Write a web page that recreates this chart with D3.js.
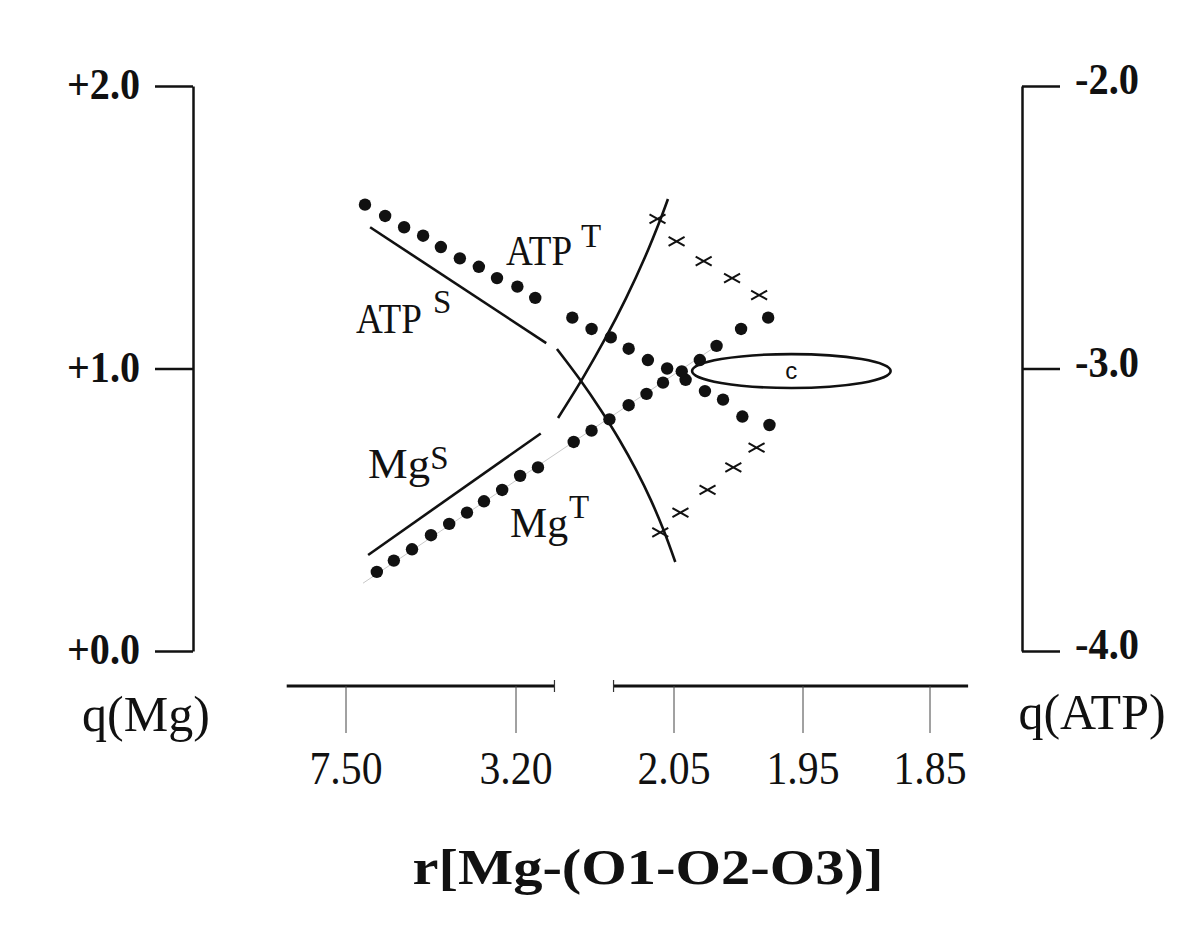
<!DOCTYPE html>
<html><head><meta charset="utf-8">
<script src="https://cdn.jsdelivr.net/npm/d3@7"></script>
<style>body{margin:0;background:#fff}</style>
</head><body><svg id="chart" width="1200" height="928"></svg>
<script>
// ---- data ----
const xTickValues = [7.50, 3.20, 2.05, 1.95, 1.85];
const xTickLabels = ["7.50", "3.20", "2.05", "1.95", "1.85"];
const qMgTicks = [0, 1, 2];
const qAtpTicks = [-4, -3, -2];
const axisSegments = [[9.0, 2.92], [2.49, 1.82]];

// ATP^T dotted series (r, q(Mg))
const atpT_r = [7.02, 6.51, 6.03, 5.55, 5.10, 4.62, 4.14, 3.68, 3.19, 3.06, 2.79, 2.65, 2.51, 2.38, 2.24, 2.10, 2.041, 2.026, 2.012, 1.997, 1.976];
const atpT_q = [1.58, 1.54, 1.50, 1.47, 1.43, 1.39, 1.36, 1.32, 1.29, 1.25, 1.18, 1.14, 1.11, 1.07, 1.03, 1.00, 0.96, 0.92, 0.89, 0.83, 0.80];
// Mg^T dotted series
const mgT_r = [6.72, 6.29, 5.83, 5.35, 4.89, 4.44, 4.01, 3.55, 3.17, 3.04, 2.78, 2.65, 2.52, 2.38, 2.25, 2.13, 2.044, 2.030, 2.017, 1.998, 1.977];
const mgT_q = [0.28, 0.32, 0.36, 0.41, 0.45, 0.49, 0.53, 0.57, 0.62, 0.65, 0.74, 0.78, 0.82, 0.87, 0.91, 0.95, 0.99, 1.03, 1.08, 1.14, 1.18];
// faint guide along Mg^T
const guide_r = [7.07, 2.017];
const guide_q = [0.24, 1.08];
// ATP^S straight segment
const atpS_r = [6.89, 2.98];
const atpS_q = [1.50, 1.09];
// Mg^S straight segment
const mgS_r = [6.94, 3.02];
const mgS_q = [0.34, 0.77];
// ATP^S continuation (descending curve)
const atpC_r = [2.902, 2.732, 2.583, 2.447, 2.326, 2.219, 2.126, 2.049];
const atpC_q = [1.069, 0.959, 0.853, 0.747, 0.641, 0.535, 0.428, 0.315];
// Mg^S continuation (ascending curve)
const mgC_r = [2.894, 2.714, 2.548, 2.398, 2.264, 2.145, 2.094];
const mgC_q = [0.825, 0.966, 1.108, 1.250, 1.391, 1.533, 1.600];
// crosses
const crossUp_r = [2.17, 2.048, 2.027, 2.005, 1.984];
const crossUp_q = [1.53, 1.45, 1.38, 1.32, 1.26];
const crossLo_r = [2.15, 2.045, 2.024, 2.004, 1.986];
const crossLo_q = [0.42, 0.49, 0.57, 0.65, 0.72];
// ellipse "c" (extent in r and q)
const ellipse_r = [2.036, 1.881];
const ellipse_q = [0.931, 1.051];

// labels
const labels = [
  {base: "ATP", sup: "T", r: 3.45, q: 1.366, w: 66, sdx: 75, sdy: -18},
  {base: "ATP", sup: "S", r: 7.25, q: 1.126, w: 66, sdx: 77, sdy: -20},
  {base: "Mg",  sup: "S", r: 6.94, q: 0.612, w: 62, sdx: 62, sdy: -9},
  {base: "Mg",  sup: "T", r: 3.35, q: 0.404, w: 58, sdx: 59, sdy: -19}
];

// ---- scales ----
const svg = d3.select("#chart");
const x = d3.scaleLinear().domain(xTickValues).range([346, 516, 674, 803, 930]);
const yL = d3.scaleLinear().domain([0, 2]).range([651, 86]);
const yR = d3.scaleLinear().domain([-4, -2]).range([651, 86]);
const serif = "'Liberation Serif','Times New Roman',serif";
const fmt = d => (d < 0 ? "-" : "+") + Math.abs(d).toFixed(1);

// ---- left axis ----
const gl = svg.append("g").attr("transform", "translate(193,0)")
  .call(d3.axisLeft(yL).tickValues(qMgTicks).tickSize(38).tickSizeOuter(0).tickPadding(15).tickFormat(fmt));
// ---- right axis ----
const gr = svg.append("g").attr("transform", "translate(1022,0)")
  .call(d3.axisRight(yR).tickValues(qAtpTicks).tickSize(38).tickSizeOuter(0).tickPadding(15).tickFormat(fmt));
[gl, gr].forEach(g => {
  g.select(".domain").attr("stroke", "#111").attr("stroke-width", 2.5);
  g.selectAll(".tick line").attr("stroke", "#111").attr("stroke-width", 2.5);
  g.selectAll(".tick text").attr("fill", "#111").style("font-family", serif)
    .style("font-weight", "bold").style("font-size", "44px")
    .attr("textLength", d => d < 0 ? 64 : 73).attr("lengthAdjust", "spacingAndGlyphs");
});
gl.selectAll(".tick text").attr("dy", "0.29em");
gr.selectAll(".tick text").attr("dy", "0.18em");

// ---- bottom broken axis ----
const axY = 686;
const gb = svg.append("g");
axisSegments.forEach((s, i) => {
  gb.append("line").attr("x1", x(s[0])).attr("x2", x(s[1])).attr("y1", axY).attr("y2", axY)
    .attr("stroke", "#111").attr("stroke-width", 3);
  const endX = i === 0 ? x(s[1]) : x(s[0]);
  gb.append("line").attr("x1", endX).attr("x2", endX).attr("y1", axY - 6).attr("y2", axY + 6)
    .attr("stroke", "#333").attr("stroke-width", 1.2);
});
xTickValues.forEach((v, i) => {
  gb.append("line").attr("x1", x(v)).attr("x2", x(v)).attr("y1", axY).attr("y2", axY + 47)
    .attr("stroke", "#444").attr("stroke-width", 1);
  gb.append("text").attr("x", x(v)).attr("y", axY + 98).attr("text-anchor", "middle")
    .style("font-family", serif).style("font-size", "47px").attr("fill", "#111")
    .attr("textLength", 73).attr("lengthAdjust", "spacingAndGlyphs").text(xTickLabels[i]);
});

// axis titles
svg.append("text").attr("x", 146).attr("y", 731).attr("text-anchor", "middle")
  .style("font-family", serif).style("font-size", "50px").attr("fill", "#111").text("q(Mg)");
svg.append("text").attr("x", 1092).attr("y", 729).attr("text-anchor", "middle")
  .style("font-family", serif).style("font-size", "50px").attr("fill", "#111").text("q(ATP)");
svg.append("text").attr("x", 648).attr("y", 884).attr("text-anchor", "middle")
  .style("font-family", serif).style("font-size", "50px").style("font-weight", "bold")
  .attr("textLength", 471).attr("lengthAdjust", "spacingAndGlyphs").attr("fill", "#111")
  .text("r[Mg-(O1-O2-O3)]");

// ---- marks ----
const line = d3.line().x(d => x(d[0])).y(d => yL(d[1]));
const zip = (a, b) => a.map((v, i) => [v, b[i]]);

svg.append("path").datum(zip(guide_r, guide_q)).attr("d", line)
  .attr("fill", "none").attr("stroke", "#c8c8c8").attr("stroke-width", 1);

[[atpS_r, atpS_q], [mgS_r, mgS_q]].forEach(([r, q]) => {
  svg.append("path").datum(zip(r, q)).attr("d", line)
    .attr("fill", "none").attr("stroke", "#111").attr("stroke-width", 2.6);
});
const curve = d3.line().x(d => x(d[0])).y(d => yL(d[1])).curve(d3.curveCatmullRom.alpha(0.5));
[[atpC_r, atpC_q], [mgC_r, mgC_q]].forEach(([r, q]) => {
  svg.append("path").datum(zip(r, q)).attr("d", curve)
    .attr("fill", "none").attr("stroke", "#111").attr("stroke-width", 2.6);
});

[[atpT_r, atpT_q], [mgT_r, mgT_q]].forEach(([r, q]) => {
  svg.append("g").selectAll("circle").data(zip(r, q)).join("circle")
    .attr("cx", d => x(d[0])).attr("cy", d => yL(d[1])).attr("r", 6.2).attr("fill", "#111");
});

[[crossUp_r, crossUp_q], [crossLo_r, crossLo_q]].forEach(([r, q]) => {
  svg.append("g").selectAll("path").data(zip(r, q)).join("path")
    .attr("transform", d => `translate(${x(d[0])},${yL(d[1])})`)
    .attr("d", "M-8,-4.5L8,4.5M-8,4.5L8,-4.5").attr("stroke", "#111").attr("stroke-width", 2).attr("fill", "none");
});

// ellipse
const ex0 = x(ellipse_r[0]), ex1 = x(ellipse_r[1]);
const ey0 = yL(ellipse_q[1]), ey1 = yL(ellipse_q[0]);
svg.append("ellipse").attr("cx", (ex0 + ex1) / 2).attr("cy", (ey0 + ey1) / 2)
  .attr("rx", (ex1 - ex0) / 2).attr("ry", (ey1 - ey0) / 2)
  .attr("fill", "none").attr("stroke", "#111").attr("stroke-width", 2.6);
svg.append("text").attr("x", (ex0 + ex1) / 2).attr("y", (ey0 + ey1) / 2 + 8).attr("text-anchor", "middle")
  .style("font-family", "'Liberation Sans', Arial, sans-serif").style("font-size", "24px").attr("fill", "#111").text("c");

// labels
labels.forEach(l => {
  const lx = x(l.r), ly = yL(l.q);
  svg.append("text").attr("x", lx).attr("y", ly).style("font-family", serif).style("font-size", "42px")
    .attr("textLength", l.w).attr("lengthAdjust", "spacingAndGlyphs").attr("fill", "#111").text(l.base);
  svg.append("text").attr("x", lx + l.sdx).attr("y", ly + l.sdy).style("font-family", serif)
    .style("font-size", "33px").attr("fill", "#111").text(l.sup);
});
</script></body></html>
